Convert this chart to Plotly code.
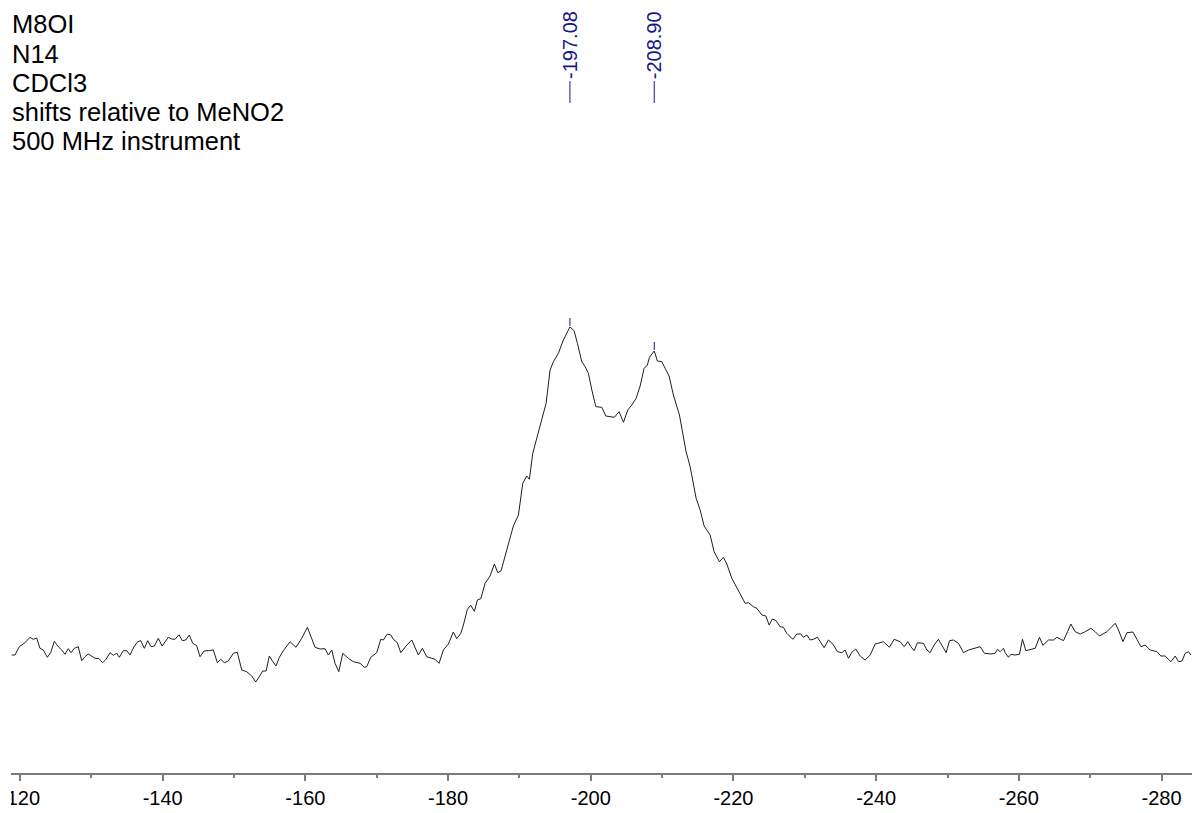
import plotly.graph_objects as go

# 14N NMR spectrum of M8OI in CDCl3 (shifts relative to MeNO2)
# chemical shift (ppm) / intensity (arbitrary units), split by region

left_ppm = [
    -118.84, -119.30, -119.90, -120.70, -121.40, -121.86, -122.34, -122.80, -123.27, -123.83,
    -124.30, -124.81, -125.37, -125.85, -126.31, -126.77, -127.15, -127.61, -128.17, -128.65,
    -129.11, -129.57, -130.05, -130.51, -131.08, -131.59, -132.06, -132.62, -133.08, -133.56,
    -133.92, -134.48, -134.96, -135.42, -135.98, -136.50, -136.92, -137.43, -137.90, -138.36,
    -138.83, -139.39, -139.91, -140.33, -140.79, -141.27, -141.73, -142.29, -142.75, -143.23,
    -143.73, -144.21, -144.77, -145.23, -145.79, -146.40, -147.10, -147.66, -148.14, -148.64,
    -149.20, -149.90, -150.46, -151.08, -151.78, -152.48, -153.04, -153.55, -154.02, -154.49,
    -154.95, -155.43, -155.89, -156.35, -156.91, -157.85, -158.69, -159.49, -160.28, -160.79,
    -161.36, -162.06, -162.76, -163.22, -163.70, -164.16, -164.68, -165.24, -166.02, -166.72,
    -167.66, -168.27, -168.60, -169.16, -170.00, -170.57, -170.93, -171.49, -171.97, -172.33,
    -172.89, -173.37, -174.11, -174.91, -175.37, -175.84, -176.40, -177.01, -177.72, -178.18,
    -178.74, -179.34, -180.04,
]
left_int = [
    0, 0, 8.3, 12.3, 17.7, 15.7, 17, 6.7, 5, -2.3,
    2.3, 13.7, 8.3, 5, 0.7, 6.3, 2.3, 6.7, 8.3, -5.7,
    -1.7, 1, -1, -3.3, -3.7, -7.7, -4.3, 2.3, -0.3, 1.7,
    -2.3, 4.3, 4.3, 0, 8.3, 13.3, 14.3, 6.7, 14.3, 8.3,
    9, 16.7, 9, 13.7, 17.7, 16, 15.7, 20.3, 14.3, 15,
    20, 11.7, 9.3, -1.7, 4, 4.3, 5, -7.7, -4.3, -7.7,
    -6, 1.7, 2.7, -15, -16.7, -21, -27, -21.7, -16, -16,
    -1, -6.7, -11, -2.3, 4.3, 13.3, 7.7, 16.7, 27.7, 18.3,
    7.7, 6, 6.3, 0, 5, -8.3, -16.7, 1.7, -3.3, -6.7,
    -8.3, -12.3, -11.7, -2.3, 2.3, 15.7, 15, 21, 20, 15.7,
    12.3, 2.3, 9, 15, 6.7, 0, 6.7, -1.7, -3.3, -4.3,
    -8.3, 5, 11,
]

band_ppm = [
    -180.74, -181.22, -181.78, -182.15, -182.71, -183.18, -183.69, -184.11, -184.58, -185.19,
    -185.89, -186.49, -186.97, -187.43, -187.99, -188.59, -189.15, -189.86, -190.19, -190.47,
    -191.03, -191.40, -191.87, -192.66, -193.74, -194.30, -194.76, -195.46, -196.16, -197.08,
    -197.66, -198.13, -198.74, -199.21, -199.67, -200.15, -200.71, -201.55, -202.11, -202.71,
    -203.31, -203.97, -204.58, -205.19, -205.75, -206.36, -206.92, -207.48, -207.94, -208.22,
    -208.90, -209.34, -209.96, -210.42, -210.98, -211.58, -212.43, -213.36, -213.93, -214.77,
    -215.33, -215.89, -216.73, -217.29, -218.03, -218.59, -219.07, -219.77, -220.70, -221.64,
    -222.10, -222.80,
]
band_int = [
    23, 16.3, 21.7, 30, 45.7, 49.7, 43.7, 55, 56.3, 71.7,
    79, 91, 82.3, 84.3, 99, 113.3, 129, 140, 155, 171.7,
    179, 175.7, 201.7, 221.7, 251.7, 285, 293.3, 301.7, 315, 328,
    324.3, 311.7, 293.3, 288.3, 281.7, 265, 248.3, 247.7, 239, 238.3,
    237.7, 243.3, 232.7, 245, 250, 256.7, 269, 286.7, 290, 297.7,
    304, 294, 293.3, 286.7, 279, 260, 240, 203.3, 188.3, 156.7,
    145, 129, 120, 103.3, 93.3, 97.7, 91, 76.7, 65, 51.7,
    52.3, 48.3,
]

right_ppm = [
    -223.28, -223.98, -224.54, -225.00, -225.46, -225.98, -226.54, -227.00, -227.48, -228.32,
    -228.88, -229.44, -229.81, -230.29, -230.75, -231.21, -231.77, -232.25, -232.71, -233.31,
    -233.93, -234.58, -235.19, -235.65, -236.12, -236.59, -237.15, -237.76, -238.46, -239.16,
    -239.86, -240.56, -241.02, -241.86, -242.52, -243.36, -243.93, -244.44, -244.86, -245.33,
    -245.79, -246.63, -247.11, -247.57, -248.13, -248.73, -249.35, -249.81, -250.28, -250.84,
    -251.54, -252.24, -252.94, -253.74, -254.58, -255.18, -256.08, -256.68, -257.00, -257.38,
    -257.85, -258.08, -258.55, -258.88, -259.49, -260.09, -260.51, -260.99, -261.59, -262.29,
    -262.89, -263.37, -264.15, -264.86, -265.33, -266.26, -266.82, -267.29, -267.90, -268.60,
    -269.30, -270.10, -270.70, -271.30, -272.34, -273.51, -273.97, -274.59, -275.15, -275.99,
    -276.55, -277.11, -277.71, -278.41, -279.35, -279.91, -280.51, -281.31, -281.92, -282.38,
    -282.86, -283.32, -283.78, -284.12,
]
right_int = [
    46.7, 40, 39, 30, 36, 34.3, 28.3, 27.7, 21.7, 15.7,
    21, 21, 17.7, 20, 15, 15.7, 17.7, 12.3, 7.3, 15,
    11, 3.3, 2.3, 5, -3.3, 2.7, 6, -1, -5, 0,
    11, 12.3, 13.3, 7.7, 15.7, 13.3, 8.3, 13.3, 8.3, 4.3,
    12.3, 11.7, 5, 2.3, 10, 15.7, 8.3, 2.3, 14.3, 15,
    11.7, 2.3, 5, 6.7, 8.3, 1.7, 1, 1.7, 5.7, 3.3,
    6.7, 2.3, -2.3, 0.7, 0, 0.7, 15.7, 4.3, 5.7, 6.7,
    17.7, 9.7, 15, 15, 17.7, 14.3, 23.3, 31, 23.3, 21,
    23.3, 26.7, 23.3, 19, 23.3, 31.7, 25, 13.3, 22.3, 23,
    15.7, 8.3, 10, 5, 3.3, -1, -1, -6.7, -1, -6.7,
    -6, 1.7, 3.3, 0,
]

# picked peaks
peak_ppm = [-197.08, -208.90]

# axis ticks
tick_vals = [-120, -140, -160, -180, -200, -220, -240, -260, -280]
tick_text = [str(v) for v in tick_vals]
minor_vals = [-130, -150, -170, -190, -210, -230, -250, -270]

header_lines = ["M8OI", "N14", "CDCl3", "shifts relative to MeNO2", "500 MHz instrument"]

ppm = left_ppm + band_ppm + right_ppm
intensity = left_int + band_int + right_int
assert len(ppm) == len(intensity)

W, H = 1197, 813
ML, MR, MT, MB = 11, 5, 0, 40
plot_h = H - MT - MB

FONT = "Liberation Sans, Arial, sans-serif"
PEAK_COLOR = "#16168c"
AXIS_COLOR = "#7c7c7c"

fig = go.Figure()
fig.add_trace(go.Scatter(
    x=ppm, y=intensity, mode="lines",
    line=dict(color="#1e1e1e", width=1),
    hoverinfo="skip", showlegend=False,
))


def px_to_paper_y(py):
    return 1 - (py - MT) / plot_h


annotations = []
shapes = []

# peak labels: rotated value text with a short leader, plus a tick above the peak
for p in peak_ppm:
    idx = min(range(len(ppm)), key=lambda i: abs(ppm[i] - p))
    peak_val = intensity[idx]
    annotations.append(dict(
        x=p, xref="x", y=px_to_paper_y(45), yref="paper",
        text=f"{p:.2f}", textangle=-90, showarrow=False,
        xanchor="center", yanchor="middle",
        font=dict(family=FONT, size=20, color=PEAK_COLOR),
    ))
    shapes.append(dict(
        type="line", xref="x", yref="paper", x0=p, x1=p,
        y0=px_to_paper_y(81), y1=px_to_paper_y(103),
        line=dict(color=PEAK_COLOR, width=1),
    ))
    shapes.append(dict(
        type="line", xref="x", yref="y", x0=p, x1=p,
        y0=peak_val + 1, y1=peak_val + 9,
        line=dict(color=PEAK_COLOR, width=1),
    ))

# sample / acquisition header
for i, line in enumerate(header_lines):
    annotations.append(dict(
        x=-0.001, xref="paper", y=px_to_paper_y(24.4 + 29.2 * i), yref="paper",
        text=line, showarrow=False, xanchor="left", yanchor="middle",
        font=dict(family=FONT, size=25.5, color="#000000"),
    ))

# trim tick labels at the left edge of the axis
shapes.append(dict(
    type="rect", xref="paper", yref="paper", layer="above",
    x0=-0.02, x1=0, y0=-0.07, y1=-0.012,
    fillcolor="white", line=dict(width=0),
))

fig.update_layout(
    width=W, height=H,
    margin=dict(l=ML, r=MR, t=MT, b=MB, pad=0),
    paper_bgcolor="white", plot_bgcolor="white",
    showlegend=False,
    annotations=annotations,
    shapes=shapes,
    xaxis=dict(
        range=[-118.74, -284.27], autorange=False,
        tickmode="array", tickvals=tick_vals, ticktext=tick_text,
        ticks="outside", ticklen=6, tickwidth=1.5, tickcolor=AXIS_COLOR,
        minor=dict(tickmode="array", tickvals=minor_vals, ticks="outside",
                   ticklen=3, tickwidth=1.5, tickcolor=AXIS_COLOR, showgrid=False),
        showline=True, linecolor=AXIS_COLOR, linewidth=2,
        showgrid=False, zeroline=False,
        ticklabeloverflow="allow",
        tickfont=dict(family=FONT, size=20, color="#000000"),
    ),
    yaxis=dict(range=[-118, 655], autorange=False, visible=False,
               showgrid=False, zeroline=False),
)

fig.write_html("out.html")
